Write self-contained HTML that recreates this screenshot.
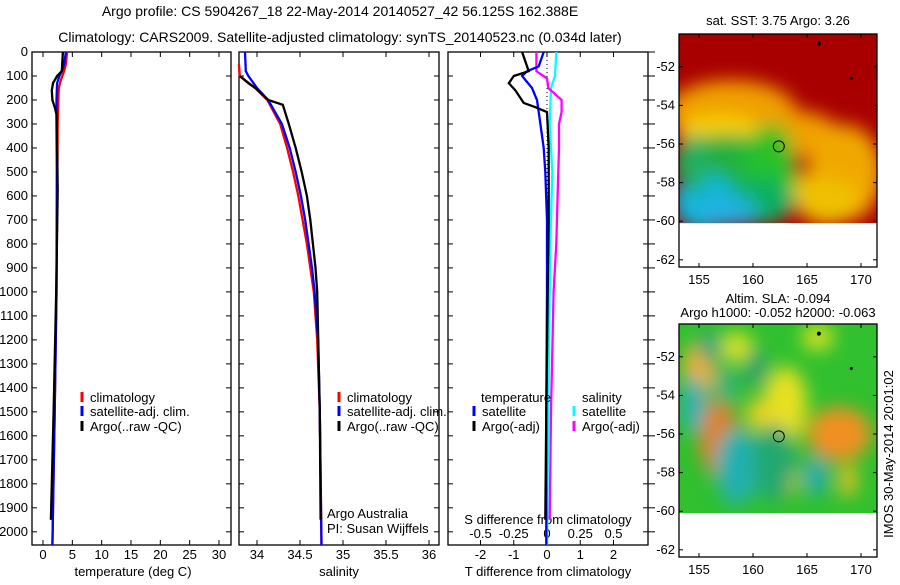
<!DOCTYPE html>
<html><head><meta charset="utf-8">
<style>
body{margin:0;background:#fff;width:900px;height:580px;overflow:hidden;font-family:"Liberation Sans",sans-serif;}
svg text{font-family:"Liberation Sans",sans-serif;font-size:13px;fill:#000;}
svg text.title{font-size:14px;}
</style></head>
<body>
<svg id="c" width="900" height="580" xmlns="http://www.w3.org/2000/svg"></svg>
<script>
// ---- data ----
const depthTicks=[0,100,200,300,400,500,600,700,800,900,1000,1100,1200,1300,1400,1500,1600,1700,1800,1900,2000];
const tTicks=[0,5,10,15,20,25,30];
const sTicks=[34,34.5,35,35.5,36];
const dTTicks=[-2,-1,0,1,2];
const dSTicks=[-0.5,-0.25,0,0.25,0.5];
const dSLabels=["-0.5","-0.25","0","0.25","0.5"];
// temperature profiles
const tClimDepth=[0,50,80,120,150,200,300,500,1000,1500,2055];
const tClim=[4.1,3.9,3.6,3.0,2.7,2.6,2.5,2.45,2.3,2.0,1.6];
const tSatDepth=[0,50,80,100,130,200,300,500,1000,1500,2055];
const tSat=[3.9,3.6,3.2,2.8,2.4,2.3,2.3,2.35,2.3,2.0,1.6];
const tArgoDepth=[0,80,100,130,160,200,230,260,400,575,1000,1500,1900,1950];
const tArgo=[3.4,3.2,2.4,1.7,1.5,1.6,2.0,2.3,2.4,2.5,2.25,1.8,1.4,1.35];
// salinity profiles
const sClimDepth=[50,100,150,200,300,400,500,600,700,800,900,1000,1200,1500,2055];
const sClim=[33.79,33.8,33.98,34.12,34.27,34.35,34.42,34.48,34.53,34.58,34.62,34.66,34.7,34.73,34.75];
const sSatDepth=[0,80,100,150,200,300,400,500,600,700,800,900,1000,1200,1500,2055];
const sSat=[33.86,33.87,33.9,34.0,34.13,34.29,34.38,34.45,34.51,34.56,34.6,34.64,34.67,34.71,34.73,34.75];
const sArgoDepth=[100,130,150,200,220,300,400,500,600,700,800,900,1000,1500,1950];
const sArgo=[33.8,33.9,33.98,34.13,34.3,34.37,34.45,34.52,34.58,34.62,34.65,34.68,34.7,34.73,34.74];
// differences
const dTSatDepth=[0,60,80,100,150,200,300,400,500,700,1000,1500,2055];
const dTSat=[-0.1,-0.25,-0.6,-0.75,-0.45,-0.3,-0.2,-0.1,-0.05,0,0.0,-0.02,-0.02];
const dTArgoDepth=[0,80,100,130,160,212,230,250,400,700,1000,1500,1950];
const dTArgo=[-0.75,-0.55,-1.0,-1.15,-0.95,-0.7,-0.35,0,0.05,0.05,0.02,-0.02,-0.05];
const dSSatDepth=[0,100,150,300,500,800,1000,1500,2055];
const dSSat=[0.07,0.06,0.03,0.02,0.04,0.025,0.02,0.01,0.0];
const dSArgoDepth=[0,80,110,150,170,200,250,300,400,600,800,1000,1500,1950];
const dSArgo=[-0.08,-0.08,0,0.01,0.05,0.11,0.11,0.09,0.09,0.08,0.07,0.05,0.03,0.02];
// map ticks
const latTicks=[-52,-54,-56,-58,-60,-62];
const lonTicks=[155,160,165,170];

// ---- helpers ----
const svg=document.getElementById('c');
const NS="http://www.w3.org/2000/svg";
function mk(tag,attrs,parent){const e=document.createElementNS(NS,tag);for(const k in attrs)e.setAttribute(k,attrs[k]);(parent||svg).appendChild(e);return e;}
function txt(x,y,s,anchor,parent){const e=mk('text',{x:x,y:y,'text-anchor':anchor||'start'},parent);e.textContent=s;return e;}
const Y0=52,Y1=545,DMAX=2055;
function yD(d){return Y0+d/DMAX*(Y1-Y0);}
function xT(v){return 43+v*(219-43)/30;}
function xS(v){return 257+(v-34)*(429-257)/2;}
function xDT(v){return 547+v*33.25;}
function xDS(v){return 547+v*133;}
function stepPath(xs,ds,fx){let p='';for(let i=0;i<xs.length;i++){const x=fx(xs[i]),y=yD(ds[i]);p+=(i?'L':'M')+x.toFixed(1)+' '+y.toFixed(1);}return p;}

// titles
let t=txt(340,16,"Argo profile: CS 5904267_18 22-May-2014 20140527_42 56.125S 162.388E","middle");
t.setAttribute('class','title');

t=txt(340,42,"Climatology: CARS2009. Satellite-adjusted climatology: synTS_20140523.nc (0.034d later)","middle");
t.setAttribute('class','title');


function panel(name,x0,x1){
  const g=mk('g',{});
  
  
  mk('rect',{x:x0,y:Y0,width:x1-x0,height:Y1-Y0,fill:'none',stroke:'#000','stroke-width':1.3},g);
  depthTicks.forEach(d=>{const y=yD(d);mk('line',{x1:x0,x2:x0+5,y1:y,y2:y,stroke:'#000'},g);mk('line',{x1:x1-5,x2:x1,y1:y,y2:y,stroke:'#000'},g);});
  return g;
}
function xTicks(g,ticks,fx,labels,labelY){
  ticks.forEach((v,i)=>{const x=fx(v);mk('line',{x1:x,x2:x,y1:Y0,y2:Y0+5,stroke:'#000'},g);mk('line',{x1:x,x2:x,y1:Y1-5,y2:Y1,stroke:'#000'},g);
    const e=txt(x,labelY,labels?labels[i]:String(v),'middle',g);});
}
function series(g,name,xs,ds,fx,color){
  const p=mk('path',{d:stepPath(xs,ds,fx),fill:'none',stroke:color,'stroke-width':2.3},g);
  
  
}
function legend(g,x,y,color,label){
  mk('line',{x1:x,x2:x,y1:y-10,y2:y,stroke:color,'stroke-width':3},g);
  const e=txt(x+8,y,label,'start',g);
  
  
}

// panel 1
const g1=panel('temperature-panel',32,231);
depthTicks.forEach(d=>{const e=txt(28,yD(d)+4,String(d),'end',g1);});
xTicks(g1,tTicks,xT,null,559);
t=txt(133,576,"temperature (deg C)","middle",g1);
series(g1,'temp-climatology',tClim,tClimDepth,xT,'#f00');
series(g1,'temp-satellite',tSat,tSatDepth,xT,'#00f');
series(g1,'temp-argo',tArgo,tArgoDepth,xT,'#000');
legend(g1,82,402,'#f00','climatology');
legend(g1,82,416,'#00f','satellite-adj. clim.');
legend(g1,82,431,'#000','Argo(..raw -QC)');

// panel 2
const g2=panel('salinity-panel',239,439);
xTicks(g2,sTicks,xS,null,559);
t=txt(339,576,"salinity","middle",g2);
series(g2,'sal-climatology',sClim,sClimDepth,xS,'#f00');
series(g2,'sal-satellite',sSat,sSatDepth,xS,'#00f');
series(g2,'sal-argo',sArgo,sArgoDepth,xS,'#000');
legend(g2,339,402,'#f00','climatology');
legend(g2,339,416,'#00f','satellite-adj. clim.');
legend(g2,339,431,'#000','Argo(..raw -QC)');
t=txt(327,518,"Argo Australia","start",g2);
t=txt(327,533,"PI: Susan Wijffels","start",g2);

// panel 3
const g3=panel('difference-panel',448,648);
depthTicks.forEach(d=>{const y=yD(d);mk('line',{x1:648,x2:655,y1:y,y2:y,stroke:'#000'},g3);});
xTicks(g3,dTTicks,xDT,null,559);
dSTicks.forEach((v,i)=>{const e=txt(xDS(v),538,dSLabels[i],'middle',g3);});
t=txt(548,524,"S difference from climatology","middle",g3);
t=txt(548,576,"T difference from climatology","middle",g3);
mk('line',{x1:xDT(0),x2:xDT(0),y1:Y0,y2:Y1,stroke:'#000','stroke-dasharray':'1 3'},g3);
series(g3,'sdiff-satellite',dSSat,dSSatDepth,xDS,'#0ff');
series(g3,'sdiff-argo',dSArgo,dSArgoDepth,xDS,'#f0f');
series(g3,'tdiff-satellite',dTSat,dTSatDepth,xDT,'#00f');
series(g3,'tdiff-argo',dTArgo,dTArgoDepth,xDT,'#000');
t=txt(481,402,"temperature","start",g3);
legend(g3,474,416,'#00f','satellite');
legend(g3,474,431,'#000','Argo(-adj)');
t=txt(582,402,"salinity","start",g3);
legend(g3,574,416,'#0ff','satellite');
legend(g3,574,431,'#f0f','Argo(-adj)');

// maps
function mapPanel(name,top,blobs,base){
  const g=mk('g',{});
  
  
  const L=679,R=877,B=top+233;
  const yL=v=>top+( -50.3 - v)*19.3;
  const xL=v=>699+(v-155)*10.8;
  const id='clip'+top;
  const cp=mk('clipPath',{id:id},g);mk('rect',{x:L,y:top,width:R-L,height:yL(-60.1)-top},cp);
  const f='blur'+top;
  const fl=mk('filter',{id:f,x:'-30%',y:'-30%',width:'160%',height:'160%'},g);mk('feGaussianBlur',{stdDeviation:9},fl);
  const inner=mk('g',{'clip-path':'url(#'+id+')'},g);
  mk('rect',{x:L,y:top,width:R-L,height:200,fill:base},inner);
  const bg=mk('g',{filter:'url(#'+f+')'},inner);
  blobs.forEach(b=>mk('ellipse',{cx:xL(b[0]),cy:yL(b[1]),rx:b[2]*10.8,ry:b[3]*19.3,fill:b[4]},bg));
  mk('rect',{x:L,y:top,width:R-L,height:B-top,fill:'none',stroke:'#000','stroke-width':1.3},g);
  latTicks.forEach(v=>{const y=yL(v);mk('line',{x1:L,x2:L+4,y1:y,y2:y,stroke:'#000'},g);mk('line',{x1:R-4,x2:R,y1:y,y2:y,stroke:'#000'},g);
    const e=txt(L-4,y+4,String(v),'end',g);});
  lonTicks.forEach(v=>{const x=xL(v);mk('line',{x1:x,x2:x,y1:top,y2:top+4,stroke:'#000'},g);mk('line',{x1:x,x2:x,y1:B-4,y2:B,stroke:'#000'},g);
    const e=txt(x,B+17,String(v),'middle',g);});
  const c=mk('circle',{cx:xL(162.388),cy:yL(-56.125),r:5.5,fill:'none',stroke:'#000'},g);
  
  
  mk('circle',{cx:xL(166.1),cy:yL(-50.8),r:2,fill:'#000'},g);
  mk('circle',{cx:xL(169.1),cy:yL(-52.6),r:1.5,fill:'#000'},g);
  return g;
}
const sstBlobs=[
 [158,-54.3,6,1.6,'#f0a000'],[164,-55.5,4,1.2,'#f0a000'],[168.5,-57.5,3.5,2.5,'#f0a800'],[167,-59,3,1.2,'#f0c000'],
 [157,-55.5,4,1,'#f8d000'],[163.5,-58.3,3,0.8,'#f0c000'],
 [157.5,-57,5,1.5,'#20b040'],[161.5,-57.5,2.5,2.5,'#20c030'],[160,-59,4,1.2,'#10b060'],
 [155.5,-59,3,1.5,'#10b8d8'],[157.5,-59.5,3,0.8,'#20b0e0'],[154.5,-57,1.5,1.5,'#20b060'],[162,-56,1.5,1,'#30c020']
];
const slaBlobs=[
 [155,-52.7,1.5,1.5,'#f0b030'],[156.8,-56.2,1.8,2,'#e08020'],[163,-54.5,2,2,'#e8e020'],[160.5,-55,1.2,0.8,'#e8d020'],
 [168,-56,3,1.4,'#f09020'],[163.3,-58.3,1,0.8,'#f0d020'],[168.8,-58.4,0.8,0.9,'#f0c020'],[166,-51,1.5,0.7,'#d0e020'],
 [158.5,-51.5,1.5,0.8,'#d8e020'],
 [154.5,-54.5,1.2,1.5,'#30b0b0'],[158.5,-57.7,2,2,'#20b0b0'],[165.8,-58.2,1,1,'#20a8c0'],[162,-57.5,2,2,'#20a870'],
 [156,-51.5,1,0.8,'#20a080'],[160.3,-52.6,1,1,'#20a070'],[157.5,-53.5,1,1,'#30b080']
];
const m1=mapPanel('sst-map',34,sstBlobs,'#a80000');
t=txt(778,25,"sat. SST: 3.75 Argo: 3.26","middle",m1);
const m2=mapPanel('sla-map',324,slaBlobs,'#30c030');
t=txt(778,303,"Altim. SLA: -0.094","middle",m2);
t=txt(778,317,"Argo h1000: -0.052 h2000: -0.063","middle",m2);
t=txt(0,0,"IMOS 30-May-2014 20:01:02","middle");
t.setAttribute('transform','translate(893,454) rotate(-90)');

</script>
</body></html>
